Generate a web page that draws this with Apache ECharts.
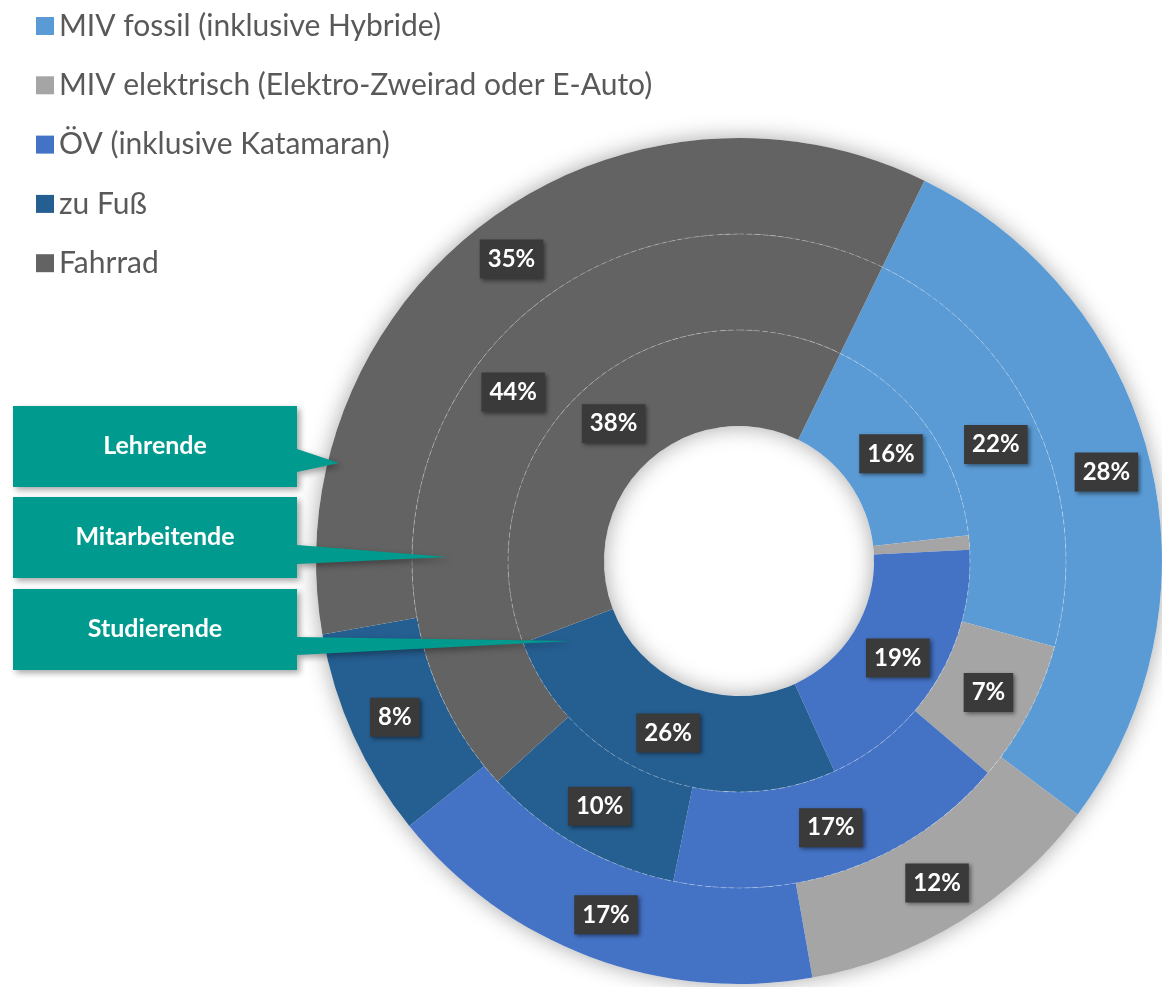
<!DOCTYPE html>
<html>
<head>
<meta charset="utf-8">
<script src="https://cdn.jsdelivr.net/npm/echarts@6/dist/echarts.min.js"></script>
<style>
  html, body { margin: 0; padding: 0; background: #fff; }
  #chart { width: 1162px; height: 987px; }
</style>
</head>
<body>
<div id="chart"></div>
<script>
// Kategorien (Verkehrsmittel)
const categories = [
  'MIV fossil (inklusive Hybride)',
  'MIV elektrisch (Elektro-Zweirad oder E-Auto)',
  'ÖV (inklusive Katamaran)',
  'zu Fuß',
  'Fahrrad'
];
// Anteile in % je Gruppe
const lehrende      = [28, 12, 17, 8, 35];
const mitarbeitende = [22, 7, 17, 10, 44];
const studierende   = [16, 1, 19, 26, 38];
const groups = ['Lehrende', 'Mitarbeitende', 'Studierende'];

const colors = ['#5B9BD5', '#A5A5A5', '#4472C4', '#255E91', '#636363'];

// Geometrie
const cx = 739, cy = 561;
const rings = [[327, 423], [231, 327], [135, 231]];   // außen -> innen
const startAngle = 64;

const chart = echarts.init(document.getElementById('chart'));

// kleine Anteile (1%) ohne Beschriftung
function ringData(values){
  return values.map((v, i) => ({
    name: categories[i],
    value: v,
    label: { show: v >= 5 }
  }));
}

const labelStyle = {
  show: true,
  position: 'inside',
  formatter: '{c}%',
  color: '#ffffff',
  fontFamily: 'Lato',
  fontWeight: 'bold',
  fontSize: 24,
  backgroundColor: '#3a3a3a',
  padding: [8, 8, 7, 8],
  shadowColor: 'rgba(0,0,0,0.45)',
  shadowBlur: 4,
  shadowOffsetX: 2,
  shadowOffsetY: 2
};

const ringValues = [lehrende, mitarbeitende, studierende];

const series = [];
// Schatten unter dem Ring
series.push({
  type: 'pie',
  silent: true,
  z: 1,
  center: [cx, cy],
  radius: [rings[2][0], rings[0][1]],
  label: { show: false },
  labelLine: { show: false },
  itemStyle: {
    color: '#ffffff',
    shadowBlur: 22,
    shadowColor: 'rgba(0,0,0,0.35)'
  },
  data: [{ value: 1, name: 'shadow' }]
});

ringValues.forEach((vals, k) => {
  series.push({
    name: groups[k],
    type: 'pie',
    silent: true,
    center: [cx, cy],
    radius: rings[k],
    startAngle: startAngle,
    clockwise: true,
    avoidLabelOverlap: false,
    label: labelStyle,
    labelLine: { show: false },
    emphasis: { disabled: true },
    itemStyle: { borderWidth: 0 },
    data: ringData(vals)
  });
});

// dünne Trennkreise zwischen den Ringen
[rings[1][1], rings[2][1]].forEach(r => {
  series.push({
    type: 'pie',
    silent: true,
    center: [cx, cy],
    radius: [0, r],
    label: { show: false },
    labelLine: { show: false },
    emphasis: { disabled: true },
    itemStyle: {
      color: 'rgba(0,0,0,0)',
      borderColor: 'rgba(255,255,255,0.3)',
      borderWidth: 1,
      borderType: [5, 3]
    },
    data: [{ value: 1, name: 'sep' }]
  });
});

// Callouts links
const callouts = [
  { top: 406, tip: [339, 463], base: [449, 472] },
  { top: 497, tip: [448, 557], base: [545, 564] },
  { top: 589, tip: [571, 641], base: [637, 655] }
];
const graphic = [];
callouts.forEach((c, i) => {
  const x0 = 13, x1 = 297, y0 = c.top, y1 = c.top + 81;
  graphic.push({
    type: 'polygon',
    z: 20,
    shape: {
      points: [
        [x0, y0], [x1, y0], [x1, c.base[0]], c.tip, [x1, c.base[1]], [x1, y1], [x0, y1]
      ]
    },
    style: {
      fill: '#009B8E',
      shadowBlur: 6,
      shadowOffsetX: 3,
      shadowOffsetY: 3,
      shadowColor: 'rgba(0,0,0,0.35)'
    }
  });
  graphic.push({
    type: 'text',
    z: 21,
    x: (x0 + x1) / 2,
    y: (y0 + y1) / 2 - 1,
    style: {
      text: groups[i],
      fill: '#ffffff',
      font: 'bold 25px Lato',
      align: 'center',
      verticalAlign: 'middle'
    }
  });
});

chart.setOption({
  animation: false,
  color: colors,
  legend: {
    orient: 'vertical',
    left: 31,
    top: 6,
    itemWidth: 18,
    itemHeight: 18,
    itemGap: 29.3,
    icon: 'rect',
    selectedMode: false,
    data: categories,
    textStyle: {
      color: '#595959',
      fontFamily: 'Lato',
      fontSize: 30,
      lineHeight: 30,
      padding: [0, 0, 0, 0]
    }
  },
  graphic: graphic,
  series: series
});
</script>
</body>
</html>
